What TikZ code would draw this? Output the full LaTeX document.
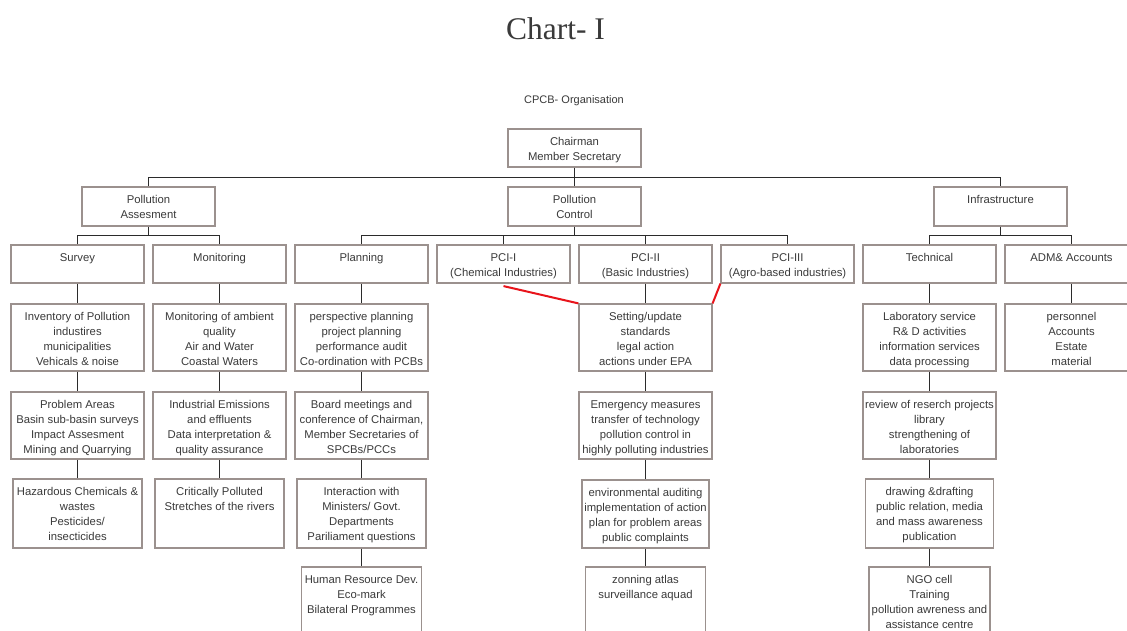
\documentclass[tikz,border=0pt]{standalone}
\usepackage{fontspec}
\setmainfont{Liberation Sans}
\newfontfamily\titleserif{Liberation Serif}
\definecolor{boxgray}{HTML}{9B918E}
\definecolor{txtgray}{HTML}{3A3A3A}
\definecolor{linegray}{HTML}{2B2B2B}
\definecolor{redline}{HTML}{E8141B}
\tikzset{
  obx/.style={draw=boxgray, line width=1.2pt, inner sep=0pt},
  otx/.style={font=\fontsize{11.3}{15}\selectfont, text=txtgray, align=center, inner sep=0pt},
  conn/.style={draw=linegray, line width=1pt},
  redl/.style={draw=redline, line width=2pt},
}
\newcommand\obox[6]{%
  \node[obx, minimum width=#4pt, minimum height=#5pt] (#1) at ({#2},{#3+#5/2}) {};
  \node[otx, anchor=north] (#1t) at ({#2},{#3+6}) {\rule{0pt}{10pt}#6};
}
\begin{document}
\begin{tikzpicture}[x=1pt,y=-1pt]
\useasboundingbox (0,0) rectangle (1127,631);
\clip (0,0) rectangle (1127,631);
\fill[white] (0,0) rectangle (1127,631);
% titles
\node[font=\titleserif\fontsize{31.5}{34}\selectfont, text=txtgray, anchor=base, inner sep=0pt] (title) at (555.5,40) {Chart- I};
\node[otx, font=\fontsize{11}{14}\selectfont, anchor=base] (org) at (574,104) {CPCB- Organisation};
% top
\obox{chair}{574.5}{129}{133}{38}{Chairman\\Member Secretary}
% level 1
\obox{pa}{148.5}{187}{133}{39}{Pollution\\Assesment}
\obox{pc}{574.5}{187}{133}{39}{Pollution\\Control}
\obox{infra}{1000.5}{187}{133}{39}{Infrastructure}
% level 2
\obox{survey}{77.5}{245}{133}{38}{Survey}
\obox{monit}{219.5}{245}{133}{38}{Monitoring}
\obox{plan}{361.5}{245}{133}{38}{Planning}
\obox{pcia}{503.5}{245}{133}{38}{PCI-I\\(Chemical Industries)}
\obox{pcib}{645.5}{245}{133}{38}{PCI-II\\(Basic Industries)}
\obox{pcic}{787.5}{245}{133}{38}{PCI-III\\(Agro-based industries)}
\obox{tech}{929.5}{245}{133}{38}{Technical}
\obox{adm}{1071.5}{245}{133}{38}{ADM\& Accounts}
% survey column
\obox{sa}{77.5}{304}{133}{67}{Inventory of Pollution\\industires\\municipalities\\Vehicals \& noise}
\obox{sb}{77.5}{392}{133}{67}{Problem Areas\\Basin sub-basin surveys\\Impact Assesment\\Mining and Quarrying}
\obox{sc}{77.5}{479}{129}{69}{Hazardous Chemicals \&\\wastes\\Pesticides/\\insecticides}
% monitoring column
\obox{ma}{219.5}{304}{133}{67}{Monitoring of ambient\\quality\\Air and Water\\Coastal Waters}
\obox{mb}{219.5}{392}{133}{67}{Industrial Emissions\\and effluents\\Data interpretation \&\\quality assurance}
\obox{mc}{219.5}{479}{129}{69}{Critically Polluted\\Stretches of the rivers}
% planning column
\obox{pla}{361.5}{304}{133}{67}{perspective planning\\project planning\\performance audit\\Co-ordination with PCBs}
\obox{plb}{361.5}{392}{133}{67}{Board meetings and\\conference of Chairman,\\Member Secretaries of\\SPCBs/PCCs}
\obox{plc}{361.5}{479}{129}{69}{Interaction with\\Ministers/ Govt.\\Departments\\Pariliament questions}
\obox{pld}{361.5}{567}{120}{90}{Human Resource Dev.\\Eco-mark\\Bilateral Programmes}
% control column
\obox{ca}{645.5}{304}{133}{67}{Setting/update\\standards\\legal action\\actions under EPA}
\obox{cb}{645.5}{392}{133}{67}{Emergency measures\\transfer of technology\\pollution control in\\highly polluting industries}
\obox{cc}{645.5}{480}{127}{68}{environmental auditing\\implementation of action\\plan for problem areas\\public complaints}
\obox{cd}{645.5}{567}{120}{90}{zonning atlas\\surveillance aquad}
% technical column
\obox{ta}{929.5}{304}{133}{67}{Laboratory service\\R\& D activities\\information services\\data processing}
\obox{tb}{929.5}{392}{133}{67}{review of reserch projects\\library\\strengthening of\\laboratories}
\obox{tc}{929.5}{479}{128}{69}{drawing \&drafting\\public relation, media\\and mass awareness\\publication}
\obox{td}{929.5}{567}{121}{90}{NGO cell\\Training\\pollution awreness and\\assistance centre}
% adm column
\obox{aa}{1071.5}{304}{133}{67}{personnel\\Accounts\\Estate\\material}
% junctions
\coordinate (j0) at (574.5,177.5);
\coordinate (ja) at (148.5,235.5);
\coordinate (jc) at (574.5,235.5);
\coordinate (ji) at (1000.5,235.5);
% connectors top
\draw[conn] (chair.south) -- (j0);
\draw[conn] (pa.north) |- (j0) -| (infra.north);
\draw[conn] (j0) -- (pc.north);
\draw[conn] (pa.south) -- (ja);
\draw[conn] (survey.north) |- (ja) -| (monit.north);
\draw[conn] (pc.south) -- (jc);
\draw[conn] (plan.north) |- (jc) -| (pcic.north);
\draw[conn] (pcia.north) -- (pcia.north |- jc);
\draw[conn] (pcib.north) -- (pcib.north |- jc);
\draw[conn] (infra.south) -- (ji);
\draw[conn] (tech.north) |- (ji) -| (adm.north);
% column connectors
\draw[conn] (survey.south) -- (sa.north);
\draw[conn] (sa.south) -- (sb.north);
\draw[conn] (sb.south) -- (sc.north);
\draw[conn] (monit.south) -- (ma.north);
\draw[conn] (ma.south) -- (mb.north);
\draw[conn] (mb.south) -- (mc.north);
\draw[conn] (plan.south) -- (pla.north);
\draw[conn] (pla.south) -- (plb.north);
\draw[conn] (plb.south) -- (plc.north);
\draw[conn] (plc.south) -- (pld.north);
\draw[conn] (pcib.south) -- (ca.north);
\draw[conn] (ca.south) -- (cb.north);
\draw[conn] (cb.south) -- (cc.north);
\draw[conn] (cc.south) -- (cd.north);
\draw[conn] (tech.south) -- (ta.north);
\draw[conn] (ta.south) -- (tb.north);
\draw[conn] (tb.south) -- (tc.north);
\draw[conn] (tc.south) -- (td.north);
\draw[conn] (adm.south) -- (aa.north);
% red lines
\draw[redl] ([yshift=-2.5pt]pcia.south) -- (ca.north west);
\draw[redl] (ca.north east) -- (pcic.south west);
\end{tikzpicture}
\end{document}
